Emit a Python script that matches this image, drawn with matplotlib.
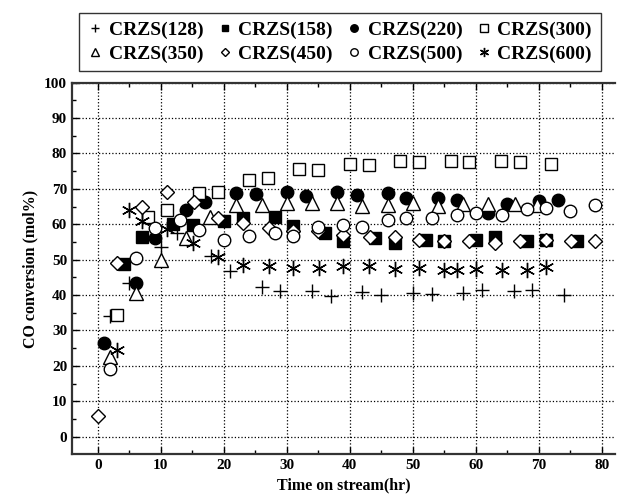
import matplotlib
matplotlib.use("Agg")
import matplotlib.pyplot as plt

plt.rcParams['font.family'] = ['Liberation Serif', 'DejaVu Serif']
plt.rcParams['font.weight'] = 'bold'

# CRZS(128)
x128 = [2, 5, 10, 12.5, 18, 21, 26, 29, 34, 37, 42, 45, 50, 53, 58, 61, 66, 69, 74]
y128 = [34, 43.3, 53.5, 57.5, 51, 46.7, 42.4, 41.0, 41.0, 39.6, 40.8, 39.9, 40.6, 40.3, 40.6, 41.5, 41.1, 41.3, 39.9]
# CRZS(158)
x158 = [4.2, 7, 12, 15.1, 20, 23.1, 28.1, 31, 36.1, 39, 44, 47.1, 52.1, 55, 60, 63.1, 68.1, 71.1, 76]
y158 = [48.8, 56.5, 60.1, 59.8, 61.0, 61.7, 62.0, 59.6, 57.5, 55.4, 56.1, 54.8, 55.6, 55.2, 55.6, 56.3, 55.4, 55.6, 55.4]
# CRZS(220)
x220 = [1, 6.1, 9.1, 14, 17, 22, 25.1, 30, 33, 38, 41.1, 46.1, 49, 54, 57, 62, 64.9, 70.1, 73]
y220 = [26.5, 43.4, 56.1, 64.0, 66.2, 68.9, 68.5, 69.2, 68.0, 69.0, 68.3, 68.7, 67.5, 67.3, 66.8, 63.1, 65.6, 66.6, 66.8]
# CRZS(300)
x300 = [3, 8, 11, 16, 19, 24, 27, 32, 35, 40, 43, 48, 51, 56, 59, 64, 67, 72]
y300 = [34.3, 62.1, 64.0, 68.7, 69.0, 72.5, 73.0, 75.5, 75.3, 77.0, 76.7, 77.9, 77.5, 77.9, 77.6, 77.9, 77.5, 77.0]
# CRZS(350)
x350 = [2, 6.1, 10, 14, 17.8, 22, 26, 30, 34, 38, 42, 46, 50, 54, 58, 62, 66.2, 69.8]
y350 = [22.4, 40.6, 50.0, 56.1, 62.1, 65.4, 65.4, 65.9, 66.1, 65.9, 65.2, 65.4, 65.9, 65.2, 65.6, 65.7, 65.6, 65.4]
# CRZS(450)
x450 = [0, 3, 7, 11, 15.2, 19, 23.1, 27.1, 31, 35, 39, 43.2, 47.1, 51, 55, 59, 63.1, 67, 71.1, 75.1, 79]
y450 = [5.8, 49.0, 64.8, 69.2, 66.4, 61.7, 60.3, 58.9, 58.0, 58.2, 57.0, 56.5, 56.3, 55.6, 55.3, 55.4, 54.8, 55.4, 55.6, 55.4, 55.4]
# CRZS(500)
x500 = [2, 6.1, 9.1, 13, 16.1, 20, 24, 28.1, 31, 35, 39, 42, 46.1, 49, 53, 57, 60, 64.1, 68.1, 71.1, 75, 79]
y500 = [19.0, 50.4, 58.9, 61.2, 58.4, 55.6, 56.7, 57.5, 56.7, 59.2, 59.8, 59.2, 61.2, 61.7, 61.9, 62.6, 63.3, 62.6, 64.2, 64.5, 63.6, 65.4]
# CRZS(600)
x600 = [3.1, 5, 7, 11, 15.1, 19, 23, 27.1, 31, 35.1, 39, 43.1, 47.1, 51, 55, 57, 60, 64.1, 68.1, 71.1]
y600 = [24.4, 64.0, 61.0, 58.7, 54.8, 50.8, 48.5, 48.3, 47.6, 47.6, 48.1, 48.3, 47.3, 47.6, 47.0, 47.0, 47.3, 47.1, 47.1, 47.9]

fig = plt.figure(figsize=(6.17, 5.04), dpi=100)
ax = fig.add_axes([0.1167, 0.0986, 0.88, 0.7374])

h = {}
h['128'] = ax.plot(x128, y128, ls='none', marker='+', ms=10, mew=1, color='black')[0]
h['158'] = ax.plot(x158, y158, ls='none', marker='s', ms=8, color='black')[0]
h['220'] = ax.plot(x220, y220, ls='none', marker='o', ms=9, color='black')[0]
h['300'] = ax.plot(x300, y300, ls='none', marker='s', ms=8.5, mfc='white', mec='black', mew=1)[0]
h['350'] = ax.plot(x350, y350, ls='none', marker='^', ms=9.5, mfc='white', mec='black', mew=1)[0]
h['450'] = ax.plot(x450, y450, ls='none', marker='D', ms=7.5, mfc='white', mec='black', mew=1)[0]
h['500'] = ax.plot(x500, y500, ls='none', marker='o', ms=9, mfc='white', mec='black', mew=1)[0]
h['600'] = ax.plot(x600, y600, ls='none', marker=(6, 2, 0), ms=11, mew=1, color='black')[0]

ax.set_xlim(-4.1, 82.1)
ax.set_ylim(-5, 100)
ax.set_xticks(range(0, 81, 10))
ax.set_xticks(range(0, 81, 5), minor=True)
ax.set_yticks(range(0, 101, 10))
ax.set_yticks(range(0, 101, 5), minor=True)
ax.tick_params(which='both', direction='in', top=True, right=False, labelsize=11)
ax.tick_params(which='major', length=5, width=1)
ax.tick_params(which='minor', length=3, width=1)
ax.grid(True, which='major', ls=':', color='black', lw=0.9)
for s in ['left', 'bottom', 'top']:
    ax.spines[s].set_linewidth(1.6)
    ax.spines[s].set_color('#333333')
ax.spines['right'].set_visible(False)

ax.set_xlabel('Time on stream(hr)', fontsize=11.5, fontweight='bold')
ax.set_ylabel('CO conversion (mol%)', fontsize=11.5, fontweight='bold')

order = ['128', '350', '158', '450', '220', '500', '300', '600']
leg = fig.legend([h[k] for k in order], ['CRZS(%s)' % k for k in order],
                 ncol=4, loc='center',
                 bbox_to_anchor=(340 / 617, 1 - 42 / 504),
                 fontsize=14, frameon=True, fancybox=False, edgecolor='black',
                 handlelength=0.7, handletextpad=0.35, columnspacing=0.75,
                 markerscale=0.6, borderpad=0.45, labelspacing=0.3,
                 borderaxespad=0)
leg.get_frame().set_linewidth(1.0)

fig.savefig('out.png', dpi=100)
